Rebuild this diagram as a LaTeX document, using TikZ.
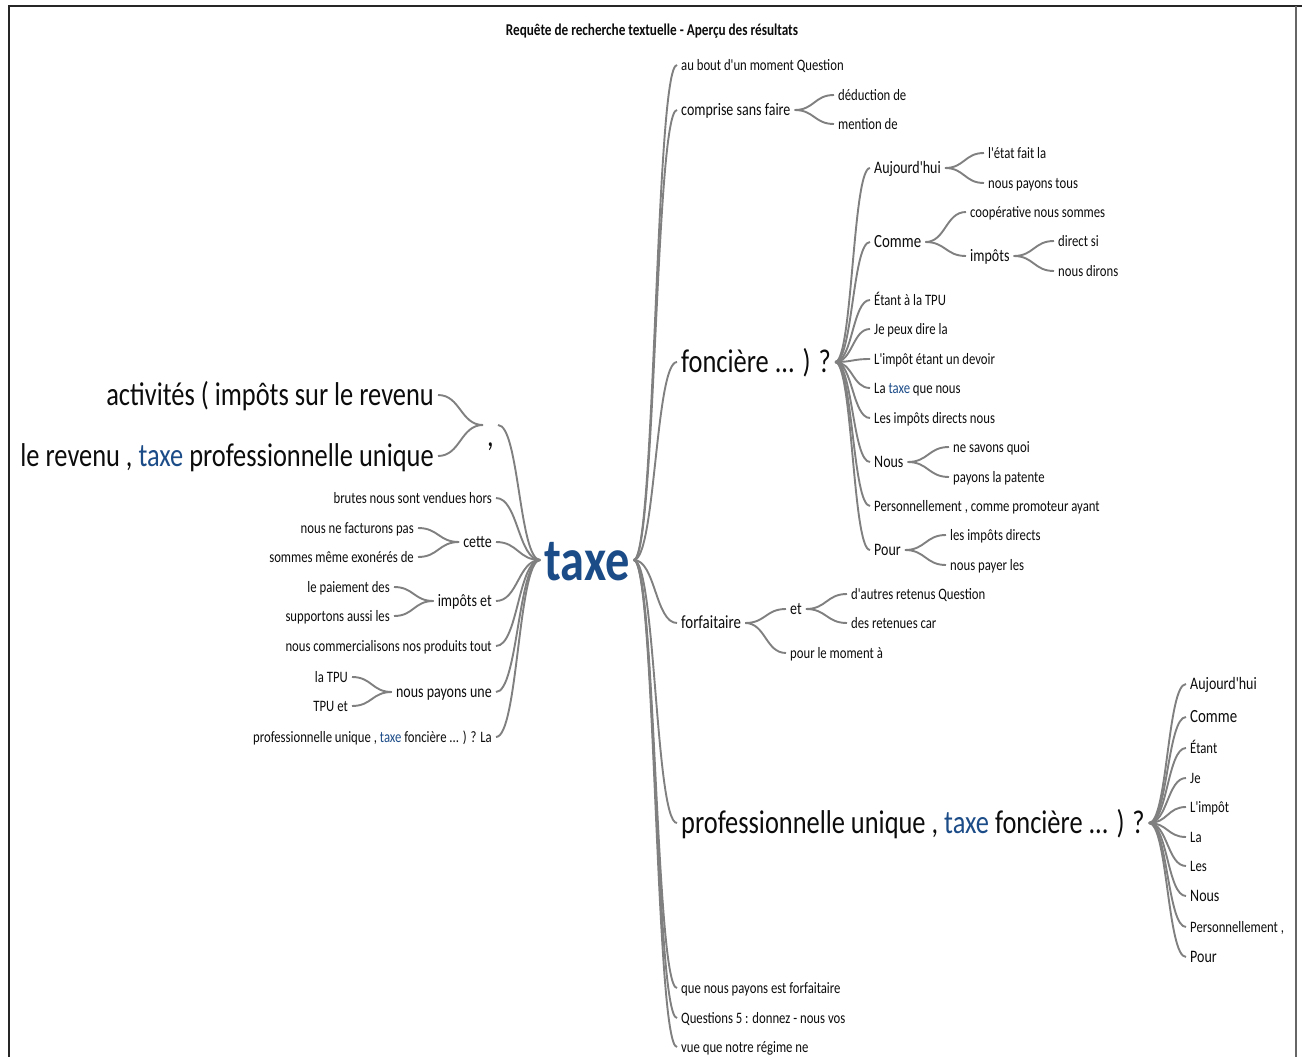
\documentclass[tikz,border=0pt]{standalone}
\usepackage{fontspec}
\setmainfont{Carlito}[FakeStretch=0.8, Ligatures=TeXOff]
\usetikzlibrary{calc}
\definecolor{taxeblue}{RGB}{28,76,136}
\definecolor{wiregray}{RGB}{128,128,128}
\definecolor{ink}{RGB}{12,12,12}
\newcommand\tx[1]{\textcolor{taxeblue}{#1}}
% a branch to the right, from the east side of #1 to the west side of #2
\newcommand\rtwig[2]{\draw[wire] let \p1=(#1.east),\p2=(#2.west) in (\p1) .. controls ({(\x1+\x2)/2},\y1) and ({(\x1+\x2)/2},\y2) .. (\p2);}
% a branch to the left
\newcommand\ltwig[2]{\draw[wire] let \p1=(#1.west),\p2=(#2.east) in (\p1) .. controls ({(\x1+\x2)/2},\y1) and ({(\x1+\x2)/2},\y2) .. (\p2);}
\tikzset{
  fs/.style={font=\fontsize{#1}{#1}\selectfont, text height=0.8*#1, text depth=0.16*#1},
  leaf/.style={fs=15.9},
  mid/.style={fs=17.5},
  big/.style={fs=33},
  wire/.style={draw=wiregray, line width=1.9pt},
  rt/.style={anchor=west},
  lt/.style={anchor=east},
}
\begin{document}
\begin{tikzpicture}[x=1pt, y=-1pt, every node/.style={inner xsep=4pt, inner ysep=0pt, text=ink}]
\useasboundingbox (0,0) rectangle (1302,1057);
\draw[line width=2pt, black!85] (8,6.5) -- (1302,6.5);
\draw[line width=2pt, black!85] (9,6) -- (9,1057);
\draw[line width=2pt, black!60] (1296,6) -- (1296,1057);

\node[font=\bfseries\fontsize{16.5}{16.5}\selectfont] (title) at (652,31) {Requête de recherche textuelle - Aperçu des résultats};

% the searched word
\node[fs=60.5, font=\bfseries\fontsize{60.5}{60.5}\selectfont, text=taxeblue, text height=53.2, text depth=12.1] (tx) at (587,560) {taxe};

% what follows the word
\node[leaf,rt] (bout) at (677,65) {au bout d'un moment Question};
\node[mid,rt] (compr) at (677,110) {comprise sans faire};
\node[leaf,rt] (deduc) at (834,95) {déduction de};
\node[leaf,rt] (menti) at (834,124) {mention de};
\node[big,rt] (fonc) at (677,362) {foncière ... ) ?};
\node[mid,rt] (f-auj) at (870,168) {Aujourd'hui};
\node[leaf,rt] (f-etat) at (984,153) {l'état fait la};
\node[leaf,rt] (f-tous) at (984,183) {nous payons tous};
\node[fs=18.6,rt] (f-comme) at (870,242) {Comme};
\node[leaf,rt] (f-coop) at (966,212) {coopérative nous sommes};
\node[mid,rt] (f-impo) at (966,256) {impôts};
\node[leaf,rt] (f-direct) at (1054,241) {direct si};
\node[leaf,rt] (f-dirons) at (1054,271) {nous dirons};
\node[leaf,rt] (f-etant) at (870,300) {Étant à la TPU};
\node[leaf,rt] (f-je) at (870,329) {Je peux dire la};
\node[leaf,rt] (f-limp) at (870,359) {L'impôt étant un devoir};
\node[leaf,rt] (f-la) at (870,388) {La \tx{taxe} que nous};
\node[leaf,rt] (f-les) at (870,418) {Les impôts directs nous};
\node[mid,rt] (f-nous) at (870,462) {Nous};
\node[leaf,rt] (f-savons) at (949,447) {ne savons quoi};
\node[leaf,rt] (f-patente) at (949,477) {payons la patente};
\node[leaf,rt] (f-perso) at (870,506) {Personnellement , comme promoteur ayant};
\node[mid,rt] (f-pour) at (870,550) {Pour};
\node[leaf,rt] (f-directs) at (946,535) {les impôts directs};
\node[leaf,rt] (f-payer) at (946,565) {nous payer les};
\node[fs=18.6,rt] (forf) at (677,623) {forfaitaire};
\node[mid,rt] (et) at (786,609) {et};
\node[leaf,rt] (autres) at (847,594) {d'autres retenus Question};
\node[leaf,rt] (retenues) at (847,623) {des retenues car};
\node[leaf,rt] (moment) at (786,653) {pour le moment à};
\node[big,rt] (prof) at (677,823) {professionnelle unique , \tx{taxe} foncière ... ) ?};
\node[mid,rt] (p-auj) at (1186,684) {Aujourd'hui};
\node[fs=18.6,rt] (p-comme) at (1186,717) {Comme};
\node[leaf,rt] (p-etant) at (1186,748) {Étant};
\node[leaf,rt] (p-je) at (1186,778) {Je};
\node[leaf,rt] (p-limp) at (1186,807) {L'impôt};
\node[leaf,rt] (p-la) at (1186,837) {La};
\node[leaf,rt] (p-les) at (1186,866) {Les};
\node[mid,rt] (p-nous) at (1186,896) {Nous};
\node[leaf,rt] (p-perso) at (1186,927) {Personnellement ,};
\node[mid,rt] (p-pour) at (1186,957) {Pour};
\node[leaf,rt] (forfa) at (677,988) {que nous payons est forfaitaire};
\node[leaf,rt] (quest) at (677,1018) {Questions 5 : donnez - nous vos};
\node[leaf,rt] (regime) at (677,1047) {vue que notre régime ne};

% what comes before the word
\node[big,lt,text height=49,text depth=6.6] (comma) at (498,425) {,};
\node[big,lt] (activ) at (438,395) {activités ( impôts sur le revenu};
\node[big,lt] (revenu) at (438,456) {le revenu , \tx{taxe} professionnelle unique};
\node[leaf,lt] (brutes) at (496,498) {brutes nous sont vendues hors};
\node[mid,lt] (cette) at (496,542) {cette};
\node[leaf,lt] (factu) at (418,528) {nous ne facturons pas};
\node[leaf,lt] (exon) at (418,557) {sommes même exonérés de};
\node[mid,lt] (impet) at (496,601) {impôts et};
\node[leaf,lt] (paiem) at (394,587) {le paiement des};
\node[leaf,lt] (suppo) at (394,616) {supportons aussi les};
\node[leaf,lt] (commer) at (496,646) {nous commercialisons nos produits tout};
\node[mid,lt] (payons) at (496,692) {nous payons une};
\node[leaf,lt] (latpu) at (352,677) {la TPU};
\node[leaf,lt] (tpuet) at (352,706) {TPU et};
\node[leaf,lt] (profla) at (496,737) {professionnelle unique , \tx{taxe} foncière ... ) ? La};

% branches
\foreach \c in {bout,compr,fonc,forf,prof,forfa,quest,regime} {\rtwig{tx}{\c}}
\foreach \c in {deduc,menti} {\rtwig{compr}{\c}}
\foreach \c in {f-auj,f-comme,f-etant,f-je,f-limp,f-la,f-les,f-nous,f-perso,f-pour} {\rtwig{fonc}{\c}}
\foreach \c in {f-etat,f-tous} {\rtwig{f-auj}{\c}}
\foreach \c in {f-coop,f-impo} {\rtwig{f-comme}{\c}}
\foreach \c in {f-direct,f-dirons} {\rtwig{f-impo}{\c}}
\foreach \c in {f-savons,f-patente} {\rtwig{f-nous}{\c}}
\foreach \c in {f-directs,f-payer} {\rtwig{f-pour}{\c}}
\foreach \c in {et,moment} {\rtwig{forf}{\c}}
\foreach \c in {autres,retenues} {\rtwig{et}{\c}}
\foreach \c in {p-auj,p-comme,p-etant,p-je,p-limp,p-la,p-les,p-nous,p-perso,p-pour} {\rtwig{prof}{\c}}
\foreach \c in {comma,brutes,cette,impet,commer,payons,profla} {\ltwig{tx}{\c}}
\foreach \c in {activ,revenu} {\ltwig{comma}{\c}}
\foreach \c in {factu,exon} {\ltwig{cette}{\c}}
\foreach \c in {paiem,suppo} {\ltwig{impet}{\c}}
\foreach \c in {latpu,tpuet} {\ltwig{payons}{\c}}
\end{tikzpicture}
\end{document}
